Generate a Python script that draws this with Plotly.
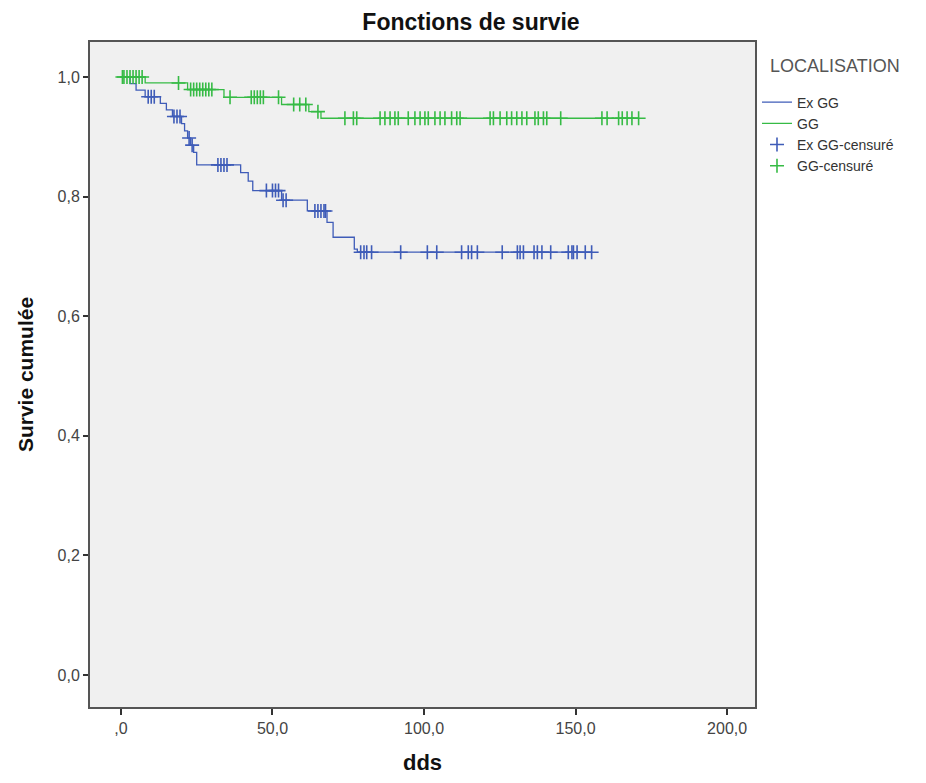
import numpy as np
import plotly.graph_objects as go

# ---- data ----
exgg_event_t = [0, 3, 5, 8, 13, 15, 17, 20, 21, 22, 23, 24, 25, 39.5, 42, 43.5, 53, 61.5, 68, 70, 77, 78]
exgg_event_s = [1.0, 0.989, 0.978, 0.967, 0.956, 0.945, 0.934, 0.922, 0.910, 0.898, 0.886, 0.874, 0.853,
                0.840, 0.826, 0.810, 0.794, 0.776, 0.757, 0.732, 0.712, 0.707]
exgg_cens_t = [9, 10, 11, 17.5, 18.5, 19.5, 22.5, 23.5, 32, 33, 34, 35, 48, 50, 51, 52, 53.5, 54.5, 64, 65, 66,
               67, 67.5, 79.1, 80.2, 81.1, 82.7, 92.3, 101.1, 104.2, 112.4, 114.6, 115.7, 117.6, 125.8, 130.8,
               131.7, 132.8, 136.3, 137.4, 138.9, 141.8, 147.6, 148.8, 149.3, 150.5, 153.2, 155.3]

gg_event_t = [0, 8, 22, 34, 53, 62, 66]
gg_event_s = [1.0, 0.990, 0.979, 0.966, 0.954, 0.942, 0.931]
gg_cens_t = [0.5, 1, 2, 3, 4, 5, 6, 7, 19, 23, 24, 25, 26, 27, 28, 29, 30, 36, 43, 44, 45, 46, 47, 52,
             57, 59, 61, 65, 73.9, 76.7, 77.8, 85.5, 87.1, 88.8, 90.4, 91.5, 94.8, 97.0, 98.7, 100.3,
             101.4, 103.6, 105.3, 106.9, 109.1, 110.8, 111.9, 121.8, 122.9, 125.1, 127.3, 128.9, 130.6,
             132.3, 133.9, 136.6, 137.7, 139.4, 140.5, 145.1, 158.7, 160.4, 164.2, 165.4, 167.0, 168.6, 170.8]

x_tickvals = [0, 50, 100, 150, 200]
x_ticktext = [",0", "50,0", "100,0", "150,0", "200,0"]
y_tickvals = [0, 0.2, 0.4, 0.6, 0.8, 1.0]
y_ticktext = ["0,0", "0,2", "0,4", "0,6", "0,8", "1,0"]

names = ["Ex GG", "GG", "Ex GG-censuré", "GG-censuré"]
legend_title = "LOCALISATION"
BLUE = "#3f5cb8"
GREEN = "#36bb45"


def step_value(ev_t, ev_s, t):
    idx = np.searchsorted(np.array(ev_t), t, side="right") - 1
    return ev_s[max(idx, 0)]


def curve(ev_t, ev_s, cens_t):
    end = max(cens_t[-1], ev_t[-1])
    return list(ev_t) + [end], list(ev_s) + [ev_s[-1]]


fig = go.Figure()
xb, yb = curve(exgg_event_t, exgg_event_s, exgg_cens_t)
xg, yg = curve(gg_event_t, gg_event_s, gg_cens_t)
fig.add_trace(go.Scatter(x=xb, y=yb, mode="lines", line=dict(color=BLUE, width=1.3, shape="hv"), name=names[0]))
fig.add_trace(go.Scatter(x=xg, y=yg, mode="lines", line=dict(color=GREEN, width=1.3, shape="hv"), name=names[1]))
fig.add_trace(go.Scatter(x=exgg_cens_t, y=[step_value(exgg_event_t, exgg_event_s, t) for t in exgg_cens_t],
                         mode="markers", name=names[2],
                         marker=dict(symbol="cross-thin", size=10, line=dict(color=BLUE, width=1.6))))
fig.add_trace(go.Scatter(x=gg_cens_t, y=[step_value(gg_event_t, gg_event_s, t) for t in gg_cens_t],
                         mode="markers", name=names[3],
                         marker=dict(symbol="cross-thin", size=10, line=dict(color=GREEN, width=1.6))))

FONT = "Liberation Sans, Arial, sans-serif"
fig.update_layout(
    width=926, height=783,
    paper_bgcolor="white", plot_bgcolor="#f0f0f0",
    margin=dict(l=82, r=179, t=34, b=84),
    font=dict(family=FONT, size=16, color="#444"),
    title=dict(text="<b>Fonctions de survie</b>", x=0.5, xref="container", xanchor="center",
               y=0.982, yref="container", yanchor="middle",
               font=dict(family=FONT, size=23, color="#111")),
    legend=dict(x=1.003, y=0.933, xanchor="left", yanchor="top", bgcolor="rgba(0,0,0,0)",
                font=dict(size=14, color="#333"), tracegroupgap=0, itemwidth=30),
    annotations=[dict(text=legend_title, xref="paper", yref="paper", x=1.0195, y=0.964,
                      xanchor="left", yanchor="middle", showarrow=False,
                      font=dict(family=FONT, size=18, color="#555"))],
    xaxis=dict(range=[-10.2, 209.2], tickvals=x_tickvals, ticktext=x_ticktext, ticks="outside", ticklen=6,
               tickcolor="#333", tickwidth=1.5, showgrid=False, zeroline=False, showline=True, mirror=True,
               linecolor="#555", linewidth=2,
               title=dict(text="<b>dds</b>", standoff=18,
                          font=dict(family=FONT, size=22, color="#111"))),
    yaxis=dict(range=[-0.0535, 1.0585], tickvals=y_tickvals, ticktext=y_ticktext, ticks="outside", ticklen=5,
               tickcolor="#333", tickwidth=1.5, showgrid=False, zeroline=False, showline=True, mirror=True,
               linecolor="#555", linewidth=2,
               title=dict(text="<b>Survie cumulée</b>", standoff=18,
                          font=dict(family=FONT, size=21, color="#111"))),
)

fig.write_html("out.html")
